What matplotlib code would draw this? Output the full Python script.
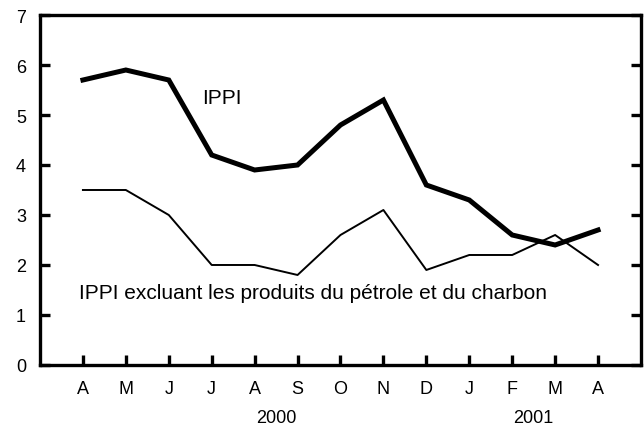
import matplotlib
matplotlib.use("Agg")
import matplotlib.pyplot as plt

months = ["A", "M", "J", "J", "A", "S", "O", "N", "D", "J", "F", "M", "A"]
ippi = [5.7, 5.9, 5.7, 4.2, 3.9, 4.0, 4.8, 5.3, 3.6, 3.3, 2.6, 2.4, 2.7]
ippi_excl = [3.5, 3.5, 3.0, 2.0, 2.0, 1.8, 2.6, 3.1, 1.9, 2.2, 2.2, 2.6, 2.0]
years = ["2000", "2001"]
year_pos = [4.5, 10.5]

plt.rcParams["font.family"] = ["Liberation Sans", "DejaVu Sans"]

fig = plt.figure(figsize=(6.44, 4.27), dpi=100)
ax = fig.add_axes([0.0621, 0.1429, 0.9332, 0.8196])
x = list(range(len(months)))

ax.plot(x, ippi, color="black", lw=3.6, solid_joinstyle="miter")
ax.plot(x, ippi_excl, color="black", lw=1.4)

ax.set_xlim(-1, 13)
ax.set_ylim(0, 7)
for s in ax.spines.values():
    s.set_linewidth(2.4)

ax.set_yticks(range(8))
ax.tick_params(axis="y", direction="in", length=7, width=2.4, labelsize=13,
               pad=10, right=True)
ax.set_xticks(x)
ax.set_xticklabels(months)
ax.tick_params(axis="x", direction="in", length=7, width=2.4, labelsize=13, pad=11)
ax.set_xticks([9], minor=True)
ax.tick_params(axis="x", which="minor", direction="in", length=12, width=2.4)

for yr, p in zip(years, year_pos):
    ax.text(p, -1.05, yr, ha="center", va="center", fontsize=13)

ax.text(2.77, 5.35, "IPPI", ha="left", va="center", fontsize=15)
ax.text(-0.09, 1.44, "IPPI excluant les produits du pétrole et du charbon",
        ha="left", va="center", fontsize=15)

fig.savefig("out.png", dpi=100)
